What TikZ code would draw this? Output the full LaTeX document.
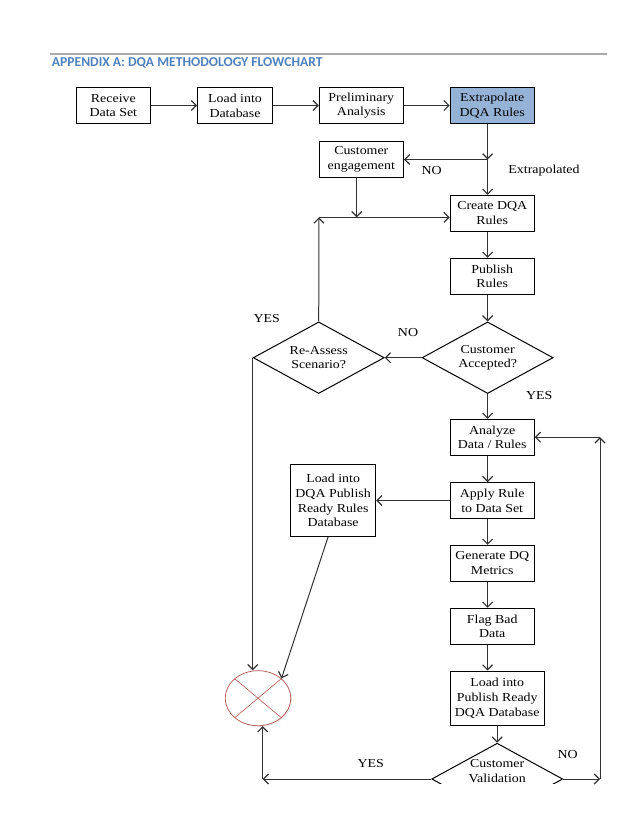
\documentclass[tikz,border=0pt]{standalone}
\usepackage{fontspec}
\setmainfont{Liberation Serif}[FakeStretch=1.14]
\newfontfamily\headfont{Carlito}[UprightFont={* Bold}]
\usetikzlibrary{positioning,shapes.geometric,arrows.meta,shadows}
\definecolor{headblue}{RGB}{79,129,189}
\definecolor{rulegray}{RGB}{170,170,170}
\definecolor{extrablue}{RGB}{149,179,215}
\definecolor{sinkred}{RGB}{180,85,80}
\tikzset{
  box/.style={draw, line width=1pt, minimum width=84pt, minimum height=35.7pt, inner sep=0pt, align=center},
  decision/.style={diamond, draw, line width=1pt, aspect=1.83, minimum width=131pt, minimum height=71.6pt, inner sep=0pt, align=center},
  sink/.style={ellipse, draw=sinkred, line width=0.7pt, fill=white, minimum width=65.6pt, minimum height=55pt, inner sep=0pt,
    drop shadow={shadow xshift=1.2pt, shadow yshift=-1.2pt, opacity=0.2}},
  arr/.style={draw=black!80, line width=1pt, -{Straight Barb[length=5pt,width=10pt,line width=1.2pt]}},
  lbl/.style={inner sep=0pt},
}

\begin{document}
\begin{tikzpicture}[x=1pt, y=-1pt, node distance=60pt, on grid, font=\fontsize{12.2}{14.7}\selectfont]
\useasboundingbox (0,0) rectangle (638,826);
\draw[rulegray, line width=1.8pt] (50,54) -- (606.7,54);
\node[anchor=west, inner sep=0pt, text=headblue, font=\headfont\fontsize{13.6}{15}\selectfont] (title) at (51.7,63.3) {APPENDIX A: DQA METHODOLOGY FLOWCHART};

% top row
\node[box, minimum width=74.7pt] (recv) at (113.35,105.5) {Receive\\Data Set};
\node[box, minimum width=74.7pt, right=121.65pt of recv] (loaddb) {Load into\\Database};
\node[box, right=126.3pt of loaddb] (prelim) {Preliminary\\Analysis};
\node[box, fill=extrablue, right=130.9pt of prelim] (extrap) {Extrapolate\\DQA Rules};
\node[box, below=54pt of prelim] (engage) {Customer\\engagement};

% main column
\node[box, below=107.7pt of extrap] (create) {Create DQA\\Rules};
\node[box, below=63pt of create] (publish) {Publish\\Rules};
\node[decision, below left=81.5pt and 4.6pt of publish] (accept) {Customer\\Accepted?};
\node[decision, left=168.9pt of accept] (reassess) {Re-Assess\\Scenario?};
\node[box, below=161pt of publish] (analyze) {Analyze\\Data / Rules};
\node[box, below=63.3pt of analyze] (apply) {Apply Rule\\to Data Set};
\node[box, minimum width=85pt, minimum height=71.7pt, left=159.1pt of apply] (dqaload) {Load into\\DQA Publish\\Ready Rules\\Database};
\node[box, below=62.7pt of apply] (metrics) {Generate DQ\\Metrics};
\node[box, below=63pt of metrics] (flag) {Flag Bad\\Data};
\node[box, minimum width=94pt, minimum height=54.3pt, below right=72pt and 5pt of flag] (pubload) {Load into\\Publish Ready\\DQA Database};
\begin{scope}
  \clip (0,0) rectangle (638,783.5);
  \node[decision, below=80.8pt of pubload] (valid) {};
\end{scope}
\node[lbl, align=center] (validtxt) at ([yshift=8.3pt]valid.center) {Customer\\Validation};
\node[sink] (sink) at (258,698.2) {};
\draw[sinkred, line width=0.6pt] (sink.140) -- (sink.-40) (sink.40) -- (sink.-140);

% junctions
\coordinate (split) at (engage -| accept);
\coordinate (mergeL) at (319,217.3);
\coordinate (mergeM) at (356.7,217.3);
\coordinate (cornerL) at (262.7,779);
\coordinate (cornerR) at (600,779);

% connectors
\draw[arr] (recv) -- (loaddb);
\draw[arr] (loaddb) -- (prelim);
\draw[arr] (prelim) -- (extrap);
\draw[arr] (extrap.south -| split) -- (split);
\draw[arr] (split) -- (create.north -| split);
\draw[arr] (split) -- (engage.east);
\draw[arr] (engage.south -| mergeM) -- (mergeM);
\draw[arr] (reassess.north) -- (mergeL);
\draw[arr] (mergeL) -- (mergeL -| create.west);
\draw[arr] (create.south -| split) -- (publish.north -| split);
\draw[arr] (publish.south -| split) -- (accept.north);
\draw[arr] (accept.west) -- (reassess.east);
\draw[arr] (accept.south) -- (analyze.north -| accept);
\draw[arr] (analyze.south -| accept) -- (apply.north -| accept);
\draw[arr] (apply.west) -- (dqaload.east);
\draw[arr] (apply.south -| accept) -- (metrics.north -| accept);
\draw[arr] (metrics.south -| accept) -- (flag.north -| accept);
\draw[arr] (flag.south -| accept) -- (pubload.north -| accept);
\draw[arr] (pubload.south -| valid) -- (valid.north);
\draw[arr] (reassess.west) -- (reassess.west |- sink.north);
\draw[arr] ([xshift=-5pt]dqaload.south) -- (sink.40);
\draw[arr] (valid.west) -- (cornerL);
\draw[arr] (cornerL) -- (cornerL |- sink.south);
\draw[arr] (valid.east) -- (cornerR);
\draw[arr] (cornerR) -- (cornerR |- analyze.east);
\draw[arr] (cornerR |- analyze.east) -- (analyze.east);

% labels
\node[lbl] (noengage) at (431.7,170.7) {NO};
\node[lbl] (extrapolated) at (544,170.7) {Extrapolated};
\node[lbl] (noaccept) at (408,332.7) {NO};
\node[lbl] (yesreassess) at (266.7,318.3) {YES};
\node[lbl] (yesaccept) at (539.3,396) {YES};
\node[lbl] (yesvalid) at (370.7,763.3) {YES};
\node[lbl] (novalid) at (567.7,755) {NO};
\end{tikzpicture}
\end{document}
